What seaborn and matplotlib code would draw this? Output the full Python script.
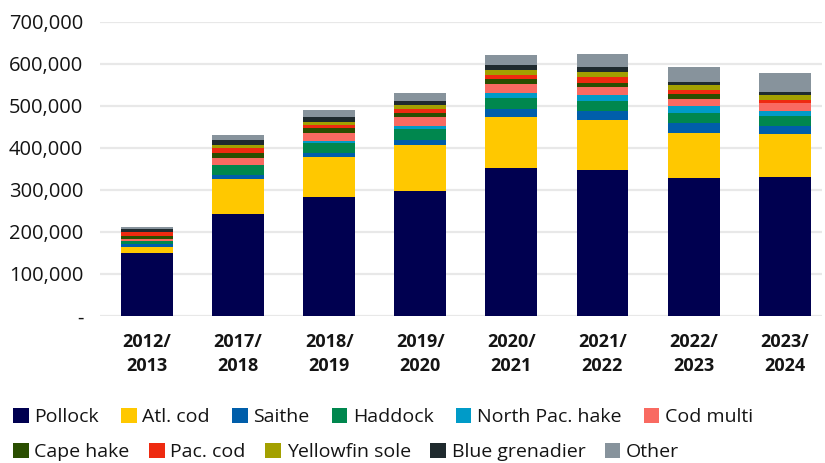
import numpy as np
import pandas as pd
import matplotlib
matplotlib.use("Agg")
import matplotlib.pyplot as plt
from matplotlib.patches import Patch
from matplotlib.ticker import FuncFormatter
import seaborn as sns

# Seasons on the x axis
seasons = ["2012/\n2013", "2017/\n2018", "2018/\n2019", "2019/\n2020",
           "2020/\n2021", "2021/\n2022", "2022/\n2023", "2023/\n2024"]

# Tonnes per species and season
pollock        = [150000, 243000, 283000, 298000, 352000, 347000, 329000, 331000]
atl_cod        = [15000, 83000, 96000, 110000, 121000, 119000, 107000, 103000]
saithe         = [7000, 10000, 9000, 12000, 21000, 23000, 24000, 19000]
haddock        = [7000, 24000, 24000, 26000, 26000, 24000, 24000, 24000]
north_pac_hake = [0, 0, 5000, 7000, 12000, 14000, 17000, 12000]
cod_multi      = [5000, 17000, 19000, 21000, 21000, 19000, 16000, 17000]
cape_hake      = [7000, 12000, 12000, 10000, 12000, 9000, 12000, 0]
pac_cod        = [10000, 10000, 7000, 9000, 9000, 14000, 10000, 9000]
yellowfin_sole = [0, 7000, 7000, 10000, 12000, 12000, 12000, 12000]
blue_grenadier = [5000, 12000, 12000, 9000, 12000, 12000, 7000, 7000]
other          = [7000, 14000, 17000, 18000, 24000, 30000, 34000, 45000]

species = ["Pollock", "Atl. cod", "Saithe", "Haddock", "North Pac. hake",
           "Cod multi", "Cape hake", "Pac. cod", "Yellowfin sole",
           "Blue grenadier", "Other"]
series = [pollock, atl_cod, saithe, haddock, north_pac_hake, cod_multi,
          cape_hake, pac_cod, yellowfin_sole, blue_grenadier, other]
colors = ["#000050", "#FFC800", "#005EAA", "#00874E", "#009BC8", "#F96A61",
          "#2A4E00", "#EE2A10", "#A3A000", "#1F2A2E", "#87939C"]

df = pd.DataFrame(dict(zip(species, series)), index=seasons)
cum = df.cumsum(axis=1)

sns.set_theme(style="white")
plt.rcParams["font.family"] = ["Open Sans", "DejaVu Sans"]
text_color = "#141414"

fig = plt.figure(figsize=(8.25, 4.63), dpi=100)
ax = fig.add_axes([100 / 825, 147 / 463, 722 / 825, 294 / 463])

# Stacked bars: draw cumulative totals from the top layer down
for name, color in reversed(list(zip(species, colors))):
    layer = pd.DataFrame({"season": seasons, "value": cum[name].values})
    sns.barplot(data=layer, x="season", y="value", color=color,
                width=0.57, saturation=1, linewidth=0, edgecolor="none",
                ax=ax, zorder=3)

ax.set_ylim(0, 700000)
ax.set_xlim(-0.516, 7.41)
ax.set_yticks(np.arange(0, 700001, 100000))
ax.yaxis.set_major_formatter(
    FuncFormatter(lambda v, _: "-" if v == 0 else f"{int(v):,}"))
ax.grid(axis="y", color="#e8e8e8", linewidth=1.6, zorder=0)
ax.grid(axis="x", visible=False)
ax.set_axisbelow(True)
for s in ax.spines.values():
    s.set_visible(False)
ax.set_xlabel("")
ax.set_ylabel("")
ax.tick_params(axis="y", length=0, pad=12, labelsize=14.5, labelcolor=text_color)
ax.tick_params(axis="x", length=0, pad=12, labelsize=13, labelcolor=text_color)
for lbl in ax.get_xticklabels():
    lbl.set_fontweight("bold")
    lbl.set_linespacing(1.45)

# Legend in two free-flowing rows
handles = [Patch(facecolor=c, edgecolor="none", label=n)
           for n, c in zip(species, colors)]
legend_kw = dict(frameon=False, borderpad=0, borderaxespad=0,
                 handlelength=0.8, handleheight=0.8, handletextpad=0.3,
                 fontsize=14, labelcolor=text_color, loc="center left")
leg1 = fig.legend(handles=handles[:6], ncol=6, columnspacing=1.13,
                  bbox_to_anchor=(13 / 825, 1 - 417 / 463), **legend_kw)
leg2 = fig.legend(handles=handles[6:], ncol=5, columnspacing=1.0,
                  bbox_to_anchor=(13 / 825, 1 - 452 / 463), **legend_kw)

fig.savefig("out.png", dpi=100)
